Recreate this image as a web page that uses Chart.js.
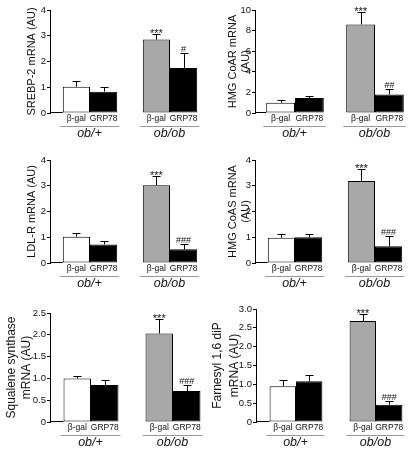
<!DOCTYPE html>
<html>
<head>
<meta charset="utf-8">
<script src="https://cdn.jsdelivr.net/npm/chart.js@4"></script>
<style>
  html, body { margin: 0; padding: 0; background: #fff; overflow: hidden; }
  body { width: 414px; height: 456px; position: relative; }
  .panel { position: absolute; }
</style>
</head>
<body>
<div class="panel" style="left:0;top:0;width:220px;height:150px"><canvas id="srebp"></canvas></div>
<div class="panel" style="left:0;top:150px;width:220px;height:150px"><canvas id="ldlr"></canvas></div>
<div class="panel" style="left:0;top:300px;width:220px;height:156px"><canvas id="sqs"></canvas></div>
<div class="panel" style="left:207px;top:0;width:210px;height:150px"><canvas id="hmgcr"></canvas></div>
<div class="panel" style="left:207px;top:150px;width:210px;height:150px"><canvas id="hmgcs"></canvas></div>
<div class="panel" style="left:207px;top:300px;width:210px;height:156px"><canvas id="fdp"></canvas></div>
<script>
var groups = ['ob/+', 'ob/ob'];
var treatments = ['β-gal', 'GRP78'];

var srebpBgal = [1.02, 2.85];
var srebpBgalErr = [0.21, 0.2];
var srebpGrp = [0.83, 1.75];
var srebpGrpErr = [0.17, 0.58];

var hmgcrBgal = [1.0, 8.6];
var hmgcrBgalErr = [0.25, 1.25];
var hmgcrGrp = [1.45, 1.8];
var hmgcrGrpErr = [0.22, 0.55];

var ldlrBgal = [1.02, 3.02];
var ldlrBgalErr = [0.15, 0.36];
var ldlrGrp = [0.72, 0.53];
var ldlrGrpErr = [0.12, 0.2];

var hmgcsBgal = [0.98, 3.18];
var hmgcsBgalErr = [0.15, 0.48];
var hmgcsGrp = [1.0, 0.65];
var hmgcsGrpErr = [0.14, 0.38];

var sqsBgal = [1.0, 2.03];
var sqsBgalErr = [0.06, 0.33];
var sqsGrp = [0.85, 0.71];
var sqsGrpErr = [0.12, 0.14];

var fdpBgal = [0.95, 2.68];
var fdpBgalErr = [0.16, 0.2];
var fdpGrp = [1.08, 0.46];
var fdpGrpErr = [0.16, 0.09];

var bgalMarks = ['', '***'];
var srebpGrpMarks = ['', '#'];
var hmgcrGrpMarks = ['', '##'];
var grpMarks = ['', '###'];

var bgalColors = ['#ffffff', '#a8a8a8'];
var grpColor = '#000000';
var FONT = "'Liberation Sans', Arial, Helvetica, sans-serif";

// error bars, significance marks and the short baseline stub
var barExtras = {
  id: 'barExtras',
  afterDatasetsDraw: function (chart) {
    var ctx = chart.ctx, y = chart.scales.y, area = chart.chartArea;
    var zero = y.getPixelForValue(0);
    ctx.save();
    ctx.strokeStyle = '#000';
    ctx.lineWidth = 1;
    var first = chart.getDatasetMeta(0).data[0];
    ctx.beginPath();
    ctx.moveTo(area.left, Math.round(zero) - 0.5);
    ctx.lineTo(first.x - first.width / 2, Math.round(zero) - 0.5);
    ctx.stroke();
    chart.data.datasets.forEach(function (ds, i) {
      chart.getDatasetMeta(i).data.forEach(function (bar, j) {
        var top = Math.round(y.getPixelForValue(ds.data[j] + ds.errors[j])) + 0.5;
        var x = Math.round(bar.x) + 0.5;
        ctx.beginPath();
        ctx.moveTo(x, bar.y);
        ctx.lineTo(x, top);
        ctx.moveTo(x - 4, top);
        ctx.lineTo(x + 4, top);
        ctx.stroke();
        var mark = ds.marks[j];
        if (mark) {
          ctx.fillStyle = '#111';
          ctx.textAlign = 'center';
          ctx.textBaseline = 'alphabetic';
          if (mark.charAt(0) === '*') {
            ctx.font = '11px ' + FONT;
            ctx.fillText(mark, bar.x, top + 2);
          } else {
            ctx.font = '9px ' + FONT;
            ctx.fillText(mark, bar.x, top - 2);
          }
        }
      });
    });
    ctx.restore();
  },
  afterDraw: function (chart) {
    var ctx = chart.ctx;
    var zero = chart.scales.y.getPixelForValue(0);
    var m0 = chart.getDatasetMeta(0), m1 = chart.getDatasetMeta(1);
    ctx.save();
    ctx.fillStyle = '#111';
    ctx.textAlign = 'center';
    ctx.textBaseline = 'middle';
    chart.data.labels.forEach(function (g, j) {
      ctx.font = '8.5px ' + FONT;
      chart.data.datasets.forEach(function (ds, i) {
        var bar = chart.getDatasetMeta(i).data[j];
        ctx.fillText(ds.label, bar.x, zero + 6);
      });
      var a = m0.data[j], b = m1.data[j];
      var l = a.x - a.width / 2 - 3, r = b.x + b.width / 2 + 2;
      ctx.strokeStyle = '#999';
      ctx.lineWidth = 1;
      ctx.beginPath();
      ctx.moveTo(l, Math.round(zero) + 13.5);
      ctx.lineTo(r, Math.round(zero) + 13.5);
      ctx.stroke();
      ctx.font = 'italic 12.5px ' + FONT;
      ctx.fillText(g, (l + r) / 2, zero + 21);
    });
    ctx.restore();
  }
};

function makeChart(id, o) {
  return new Chart(document.getElementById(id), {
    type: 'bar',
    data: {
      labels: groups,
      datasets: [
        { label: treatments[0], data: o.bgal, errors: o.bgalErr, marks: o.bgalMarks, backgroundColor: bgalColors },
        { label: treatments[1], data: o.grp, errors: o.grpErr, marks: o.grpMarks, backgroundColor: grpColor }
      ]
    },
    options: {
      responsive: true,
      maintainAspectRatio: false,
      animation: false,
      events: [],
      layout: { padding: { left: 0, top: o.top, right: o.right, bottom: o.bottom } },
      datasets: {
        bar: {
          categoryPercentage: o.cat,
          barPercentage: 1,
          borderColor: '#000',
          borderWidth: 1,
          borderSkipped: false
        }
      },
      plugins: { legend: { display: false }, tooltip: { enabled: false } },
      scales: {
        x: { display: false },
        y: {
          min: 0,
          max: o.max,
          afterFit: function (s) { s.width = o.left; },
          border: { color: '#000', width: 1 },
          grid: { drawOnChartArea: false, tickLength: 3, color: '#000' },
          ticks: { stepSize: o.step, padding: 1, color: '#111', font: { family: FONT, size: 9.5 } },
          title: {
            display: true,
            text: o.title,
            color: '#111',
            font: { family: FONT, size: o.titleSize, lineHeight: o.titleLh },
            padding: { top: o.titlePad, bottom: 0 }
          }
        }
      }
    },
    plugins: [barExtras]
  });
}

makeChart('srebp', {
  bgal: srebpBgal, bgalErr: srebpBgalErr, bgalMarks: bgalMarks,
  grp: srebpGrp, grpErr: srebpGrpErr, grpMarks: srebpGrpMarks,
  max: 4, step: 1, title: 'SREBP-2 mRNA (AU)', titleSize: 11, titleLh: 1.2, titlePad: 25.4,
  left: 50, top: 10, right: 10, bottom: 37, cat: 0.68
});
makeChart('hmgcr', {
  bgal: hmgcrBgal, bgalErr: hmgcrBgalErr, bgalMarks: bgalMarks,
  grp: hmgcrGrp, grpErr: hmgcrGrpErr, grpMarks: hmgcrGrpMarks,
  max: 10, step: 2, title: ['HMG CoAR mRNA', '(AU)'], titleSize: 11, titleLh: 1.2, titlePad: 19.4,
  left: 48, top: 10, right: 2, bottom: 37, cat: 0.72
});
makeChart('ldlr', {
  bgal: ldlrBgal, bgalErr: ldlrBgalErr, bgalMarks: bgalMarks,
  grp: ldlrGrp, grpErr: ldlrGrpErr, grpMarks: grpMarks,
  max: 4, step: 1, title: 'LDL-R mRNA (AU)', titleSize: 11, titleLh: 1.2, titlePad: 25.4,
  left: 50, top: 10, right: 10, bottom: 37, cat: 0.68
});
makeChart('hmgcs', {
  bgal: hmgcsBgal, bgalErr: hmgcsBgalErr, bgalMarks: bgalMarks,
  grp: hmgcsGrp, grpErr: hmgcsGrpErr, grpMarks: grpMarks,
  max: 4, step: 1, title: ['HMG CoAS mRNA', '(AU)'], titleSize: 11, titleLh: 1.2, titlePad: 18.9,
  left: 48, top: 10, right: 2, bottom: 37, cat: 0.68
});
makeChart('sqs', {
  bgal: sqsBgal, bgalErr: sqsBgalErr, bgalMarks: bgalMarks,
  grp: sqsGrp, grpErr: sqsGrpErr, grpMarks: grpMarks,
  max: 2.5, step: 0.5, title: ['Squalene synthase', 'mRNA (AU)'], titleSize: 12, titleLh: 1.25, titlePad: 4.5,
  left: 50, top: 13, right: 6, bottom: 34, cat: 0.67
});
makeChart('fdp', {
  bgal: fdpBgal, bgalErr: fdpBgalErr, bgalMarks: bgalMarks,
  grp: fdpGrp, grpErr: fdpGrpErr, grpMarks: grpMarks,
  max: 3, step: 0.5, title: ['Farnesyl 1,6 diP', 'mRNA (AU)'], titleSize: 12, titleLh: 1.4, titlePad: 2.6,
  left: 49, top: 9, right: 1, bottom: 34, cat: 0.66
});
</script>
</body>
</html>
